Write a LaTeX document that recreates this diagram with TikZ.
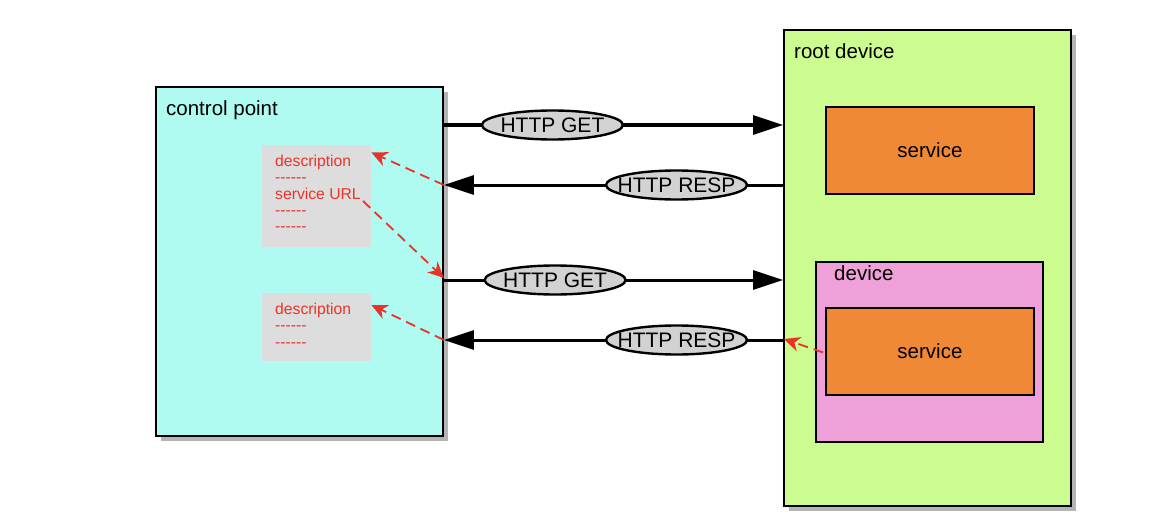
\documentclass[tikz,border=0pt]{standalone}
\usepackage{fontspec}
\setmainfont{Liberation Sans}
\usetikzlibrary{arrows.meta,shapes.geometric,shadows,calc}

\definecolor{cpfill}{RGB}{175,250,241}
\definecolor{rootfill}{RGB}{204,251,144}
\definecolor{devfill}{RGB}{239,160,216}
\definecolor{svcfill}{RGB}{240,137,53}
\definecolor{descfill}{RGB}{221,221,221}
\definecolor{pillfill}{RGB}{210,210,210}
\definecolor{shade}{RGB}{180,180,180}
\definecolor{note}{RGB}{232,52,40}

% six separate hyphens, kept from joining into dashes
\newcommand{\hyphenrow}{-{}-{}-{}-{}-{}-}

\tikzset{
  box/.style={draw=black, line width=1.9pt, rectangle, inner sep=0pt, anchor=north west},
  shadowed/.style={drop shadow={shadow xshift=5pt, shadow yshift=-5pt, fill=shade, opacity=1}},
  svcbox/.style={box, fill=svcfill, minimum width=208pt, minimum height=87pt,
                 font=\fontsize{20.5}{24}\selectfont},
  title/.style={anchor=base west, inner sep=0pt, font=\fontsize{20.5}{24}\selectfont},
  descbox/.style={fill=descfill, rectangle, inner sep=0pt, anchor=north west, minimum width=109pt},
  desctext/.style={anchor=north west, inner sep=0pt, align=left, text=note,
                   font=\fontsize{15.7}{16.4}\selectfont},
  pill/.style={ellipse, draw=black, line width=2.4pt, fill=pillfill, inner sep=0pt,
               minimum width=141pt, minimum height=29pt, font=\fontsize{21}{24}\selectfont},
  msg/.style={line width=3pt, -{Triangle[length=30pt,width=19pt]}},
  ref/.style={draw=note, line width=1.8pt, dash pattern=on 10pt off 6pt,
              -{Stealth[length=16pt,width=15pt,inset=5pt]}}
}

\begin{document}
\begin{tikzpicture}[x=1pt,y=-1pt]
\useasboundingbox (0,0) rectangle (1166,532);

% control point
\node[box, shadowed, fill=cpfill, minimum width=287pt, minimum height=349pt] (cp) at (155,86) {};
\node[title] (cplabel) at (166,115) {control point};

\node[descbox, minimum height=102pt] (d1) at (262,145) {};
\node[desctext] (t1) at (275,154.7) {description\\\hyphenrow\\service URL\\\hyphenrow\\\hyphenrow};
\node[descbox, minimum height=68pt] (d2) at (262,293) {};
\node[desctext] (t2) at (275,303) {description\\\hyphenrow\\\hyphenrow};

% root device
\node[box, shadowed, fill=rootfill, minimum width=287pt, minimum height=476pt] (root) at (783,29) {};
\node[title] (rootlabel) at (794,59) {root device};
\node[svcbox] (s1) at (825,106) {service};
\node[box, fill=devfill, minimum width=227pt, minimum height=180pt] (dev) at (815,261) {};
\node[title] (devlabel) at (834,280) {device};
\node[svcbox] (s2) at (825,307) {service};

% ends of the message lines on the two outer boxes
\coordinate (cpA) at (cp.east |- 0,125);
\coordinate (cpB) at (cp.east |- 0,185);
\coordinate (cpC) at (cp.east |- 0,280);
\coordinate (cpD) at (cp.east |- 0,340);
\coordinate (rtA) at (root.west |- cpA);
\coordinate (rtB) at (root.west |- cpB);
\coordinate (rtC) at (root.west |- cpC);
\coordinate (rtD) at (root.west |- cpD);

\draw[msg] (cpA) -- node[pill, pos=0.32] (get1) {\makebox[0pt]{HTTP GET}} (rtA);
\draw[msg] (rtB) -- node[pill, pos=0.314] (resp1) {\makebox[0pt]{HTTP RESP}} (cpB);
\draw[msg] (cpC) -- node[pill, pos=0.328] (get2) {\makebox[0pt]{HTTP GET}} (rtC);
\draw[msg] (rtD) -- node[pill, pos=0.314] (resp2) {\makebox[0pt]{HTTP RESP}} (cpD);

% references between documents and services
\coordinate (url) at (363,201);
\draw[ref] (cpB) -- ($(d1.north east)+(0,7.5)$);
\draw[ref] (url) -- ($(cpC)+(0,-2)$);
\draw[ref] (cpD) -- ($(d2.north east)+(0,12)$);
\draw[ref] ($(s2.west)+(-2,1)$) -- ($(rtD)+(1,-1)$);
\end{tikzpicture}
\end{document}
